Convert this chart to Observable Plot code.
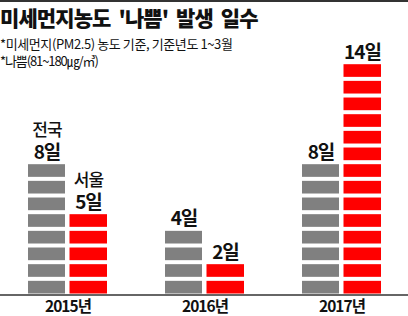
<!DOCTYPE html>
<html><head><meta charset="utf-8">
<script src="https://cdn.jsdelivr.net/npm/d3@7"></script>
<script src="https://cdn.jsdelivr.net/npm/@observablehq/plot@0.6"></script>
<style>
html,body{margin:0;padding:0;background:#fff;}
#wrap{position:relative;width:408px;height:316px;overflow:hidden;font-family:"Noto Sans CJK KR",sans-serif;color:#111;}
#topline{position:absolute;left:0;top:0;width:408px;height:2px;background:#333;z-index:2}
#title{position:absolute;left:0;top:7px;font-size:21px;font-weight:900;letter-spacing:-0.9px;word-spacing:4px;line-height:1;white-space:nowrap;z-index:2}
.sub{position:absolute;left:0;font-size:13px;line-height:1;white-space:nowrap;z-index:2}
#chart{position:absolute;left:0;top:0}
#chart svg text{letter-spacing:-1px}
</style></head>
<body>
<div id="wrap">
  <div id="topline"></div>
  <div id="title">미세먼지농도 '나쁨' 발생 일수</div>
  <div class="sub" style="top:37px;letter-spacing:-0.4px">*미세먼지(PM2.5) 농도 기준, 기준년도 1~3월</div>
  <div class="sub" style="top:54px;letter-spacing:-1.1px">*나쁨(81~180㎍/㎥)</div>
  <div id="chart"></div>
</div>
<script>
const years = ["2015", "2016", "2017"];
const seriesNames = ["전국", "서울"];
const national = [8, 4, 8];
const seoul = [5, 2, 14];
const colors = ["#808080", "#ff0000"];

function blocks(vals, s) {
  return years.flatMap((y, j) => d3.range(vals[j]).map(i => ({year: y, series: s, i})));
}
function labels(vals, s) {
  return years.map((y, j) => ({year: y, series: s, value: vals[j]}));
}
const natBlocks = blocks(national, seriesNames[0]);
const seoulBlocks = blocks(seoul, seriesNames[1]);
const natLabels = labels(national, seriesNames[0]);
const seoulLabels = labels(seoul, seriesNames[1]);

const chart = Plot.plot({
  width: 408,
  height: 316,
  marginLeft: 0,
  marginRight: 0,
  marginTop: 60.2,
  marginBottom: 22.5,
  x: {type: "band", domain: years, paddingInner: 0.425, paddingOuter: 0.196, align: 0.5},
  y: {domain: [0, 14], axis: null},
  style: {fontFamily: "'Noto Sans CJK KR', sans-serif", background: "transparent", color: "#111"},
  marks: [
    Plot.barY(natBlocks, {x: "year", y1: "i", y2: d => d.i + 1, fill: colors[0], insetTop: 4, insetRight: 42}),
    Plot.barY(seoulBlocks, {x: "year", y1: "i", y2: d => d.i + 1, fill: colors[1], insetTop: 4, insetLeft: 41.5}),
    Plot.ruleY([0], {stroke: "#333", strokeWidth: 1.5, dy: 1}),
    Plot.text(natLabels, {x: "year", y: "value", text: d => d.value + "일", dx: -21, dy: -2, lineAnchor: "bottom", fontSize: 19, fontWeight: 700, fill: "#111"}),
    Plot.text(seoulLabels, {x: "year", y: "value", text: d => d.value + "일", dx: 20.5, dy: -2, lineAnchor: "bottom", fontSize: 19, fontWeight: 700, fill: "#111"}),
    Plot.text(natLabels.slice(0, 1), {x: "year", y: "value", text: "series", dx: -21, dy: -25, lineAnchor: "bottom", fontSize: 17, fontWeight: 500, fill: "#111"}),
    Plot.text(seoulLabels.slice(0, 1), {x: "year", y: "value", text: "series", dx: 20.5, dy: -25, lineAnchor: "bottom", fontSize: 17, fontWeight: 500, fill: "#111"}),
    Plot.axisX({tickSize: 0, tickPadding: 6.5, tickFormat: d => d + "년", fontSize: 15.5, fontWeight: 700, fill: "#111", label: null})
  ]
});
document.getElementById("chart").appendChild(chart);
</script>
</body></html>
